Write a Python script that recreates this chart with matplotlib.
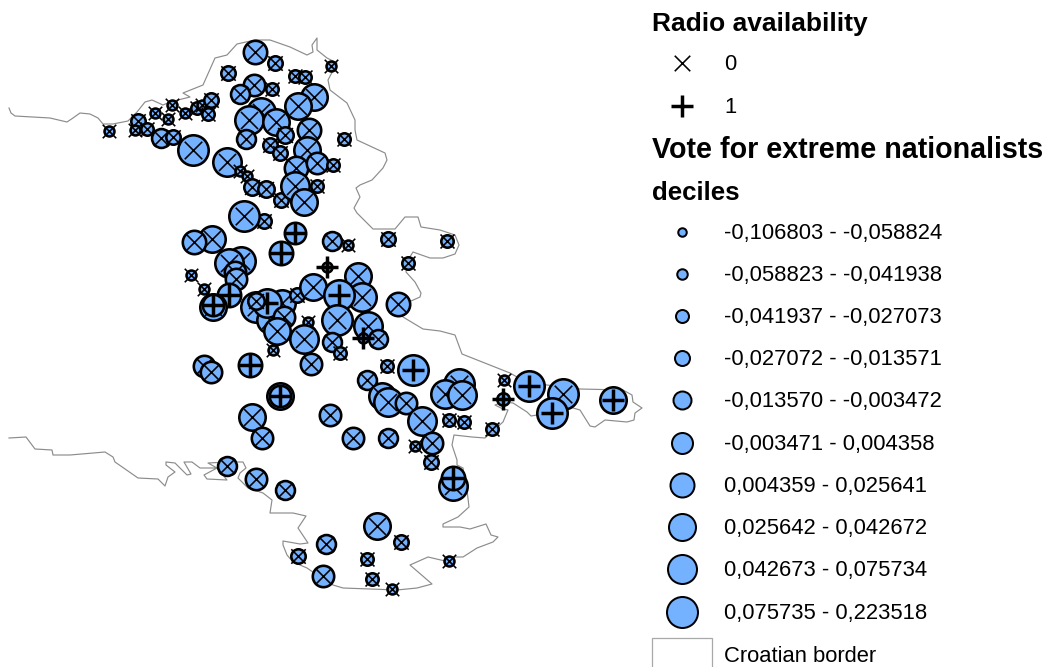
import matplotlib
matplotlib.use("Agg")
import matplotlib.pyplot as plt
from matplotlib.patches import Rectangle

plt.rcParams['font.family'] = ['Liberation Sans', 'DejaVu Sans']

border_x = [9,11,15,33,50,67,73,80,90,98,103,113,128,137,145,152,163,170,190,183,203,215,227,237,255,270,290,307,313,312,317,317,327,337,328,330,347,355,355,357,385,387,383,372,360,356,360,354,357,373,395,405,418,421,440,455,459,455,443,430,413,408,406,415,421,420,411,398,403,423,440,455,462,510,517,528,547,580,623,632,633,642,635,634,627,605,595,590,580,573,555,537,531,527,513,503,495,503,508,503,485,472,454,452,457,457,463,467,469,458,443,443,460,470,486,491,498,493,477,463,453,445,428,410,432,417,397,343,333,320,307,293,287,283,283,300,308,298,306,293,270,272,263,248,238,240,246,243,227,208,217,204,207,227,217,200,192,184,191,187,175,166,166,175,168,165,158,138,115,113,105,70,53,52,35,26,9]
border_y = [108,113,116,117,118,122,118,113,114,118,124,124,121,112,102,100,105,102,97,93,85,58,55,44,40,40,47,55,52,45,38,50,58,63,80,90,103,120,130,140,153,160,168,180,185,188,197,208,213,229,229,217,217,227,230,235,245,254,258,258,252,260,272,282,293,297,301,305,317,329,331,335,354,373,377,383,385,389,390,395,402,408,413,420,422,420,427,426,410,408,403,415,416,412,403,402,405,409,410,422,438,437,435,445,460,465,468,490,507,517,524,527,527,529,524,535,537,542,548,557,557,561,557,565,584,588,590,588,585,577,568,562,555,545,541,544,543,528,516,513,513,500,493,488,478,473,468,462,462,463,468,475,479,480,468,468,462,462,474,475,463,462,465,472,477,486,479,478,462,457,452,455,455,450,449,437,438]

site_x = [212,194,264,241,229,235,236,295,281,332,348,388,408,447,327,191,204,229,213,213,256,270,282,267,256,297,284,313,358,362,339,398,337,308,304,277,273,311,332,340,368,378,363,204,211,250,280,280,387,413,367,382,388,406,422,459,445,462,449,464,432,415,431,453,453,492,504,503,529,563,552,613,353,388,252,262,330,227,256,285,377,326,401,298,323,367,372,392,449,
 261,249,255,275,228,331,295,305,254,240,272,314,298,276,285,309,246,270,280,307,296,317,333,344,193,227,240,247,252,266,281,295,317,304,244,109,138,135,147,161,173,155,168,172,185,197,202,208,211]
site_y = [239,242,221,261,263,272,279,233,253,241,245,239,263,241,267,275,289,295,307,305,307,320,303,303,301,295,317,287,276,297,295,304,320,322,339,331,350,364,342,353,326,339,338,366,372,365,396,396,366,370,380,396,402,403,421,384,394,395,420,422,443,446,462,486,478,429,380,399,386,394,413,400,438,438,417,438,415,466,479,490,526,544,542,556,576,559,579,589,561,
 112,120,52,63,73,66,76,77,85,94,89,97,106,122,135,130,139,145,153,150,168,163,165,139,150,162,171,176,187,189,200,186,186,202,216,131,121,130,129,138,137,113,119,105,113,108,105,114,100]
site_decile = [8,7,3,9,9,6,6,6,7,5,1,3,2,2,1,1,1,7,8,6,10,8,8,9,4,3,6,8,8,9,10,7,10,1,9,8,1,6,5,2,9,5,1,6,6,7,8,6,2,10,5,8,9,6,9,10,9,9,2,2,6,1,3,9,7,2,1,2,10,10,10,8,6,5,8,6,6,5,6,5,8,5,3,3,6,2,2,1,1,
 9,9,7,3,3,1,2,2,6,5,2,8,8,8,4,7,5,3,3,8,7,6,2,2,10,9,1,1,4,4,3,9,2,8,10,1,3,1,2,5,3,1,1,1,1,2,1,2,3]
site_radio = [0,0,0,0,0,0,0,1,1,0,0,0,0,0,1,0,0,1,0,1,0,0,0,1,0,0,0,0,0,0,1,0,0,0,0,0,0,0,0,0,0,0,1,0,0,1,0,1,0,1,0,0,0,0,0,0,0,0,0,0,0,0,0,0,1,0,0,1,1,0,1,1,0,0,0,0,0,0,0,0,0,0,0,0,0,0,0,0,0,
 0,0,0,0,0,0,0,0,0,0,0,0,0,0,0,0,0,0,0,0,0,0,0,0,0,0,0,0,0,0,0,0,0,0,0,0,0,0,0,0,0,0,0,0,0,0,0,0,0]

decile_labels = ["-0,106803 - -0,058824","-0,058823 - -0,041938","-0,041937 - -0,027073","-0,027072 - -0,013571",
                 "-0,013570 - -0,003472","-0,003471 - 0,004358","0,004359 - 0,025641","0,025642 - 0,042672",
                 "0,042673 - 0,075734","0,075735 - 0,223518"]
map_diam_px = [12.5,15,17,19,21.5,24,26,29,31,33]
legend_diam_px = [10.5,12.5,15,17,20,23,26,29,31,33]
radio_labels = ["0","1"]

FILL = "#74b1ff"
PT = 72/100

def circle(ax, x, y, diam, edge, z):
    d = diam - edge
    ax.scatter([x],[y],s=(d*PT)**2,c=FILL,edgecolors="black",linewidths=edge*PT,zorder=z)

def mark(ax, x, y, radio, size_x, z):
    if radio == 0:
        ax.scatter([x],[y],s=(size_x*PT)**2,marker="x",c="black",linewidths=1.15,zorder=z)
    else:
        ax.scatter([x],[y],s=(22.5*PT)**2,marker="+",c="black",linewidths=2.5,zorder=z)

fig = plt.figure(figsize=(10.47,6.67),dpi=100)
ax = fig.add_axes([0,0,1,1])
ax.set_xlim(0,1047); ax.set_ylim(667,0); ax.axis("off")

ax.plot(border_x,border_y,color="#8c8c8c",lw=0.85,zorder=1,solid_joinstyle="round")

z = 2
for x,y,dec,r in zip(site_x,site_y,site_decile,site_radio):
    circle(ax,x,y,map_diam_px[dec-1],2.6,z)
    mark(ax,x,y,r,13.5+(dec-1)*0.45,z+0.5)
    z += 1

LAB = 15.85; LX = 724; SX = 682; TX = 652
ty = dict(va="center",ha="left",color="black")
ax.text(TX,24.5,"Radio availability",fontsize=19,fontweight="bold",**ty)
ax.text(TX,150.5,"Vote for extreme nationalists",fontsize=20.6,fontweight="bold",**ty)
ax.text(TX,192.5,"deciles",fontsize=18.6,fontweight="bold",**ty)
for y,r,lab in zip([63,106],[0,1],radio_labels):
    mark(ax,SX,y,r,15.5,500); ax.text(LX,y+1.5,lab,fontsize=LAB,**ty)
ys = [232,274,316,358,400,443,485,527,569,612]
for i,(y,lab) in enumerate(zip(ys,decile_labels)):
    circle(ax,SX,y,legend_diam_px[i],2.0,500); ax.text(LX,y+1.5,lab,fontsize=LAB,**ty)
ax.add_patch(Rectangle((651.5,637.5),60,40,fc="white",ec="#a8a8a8",lw=0.9,clip_on=True))
ax.text(LX,656.5,"Croatian border",fontsize=LAB,**ty)

fig.savefig("out.png",dpi=100)
